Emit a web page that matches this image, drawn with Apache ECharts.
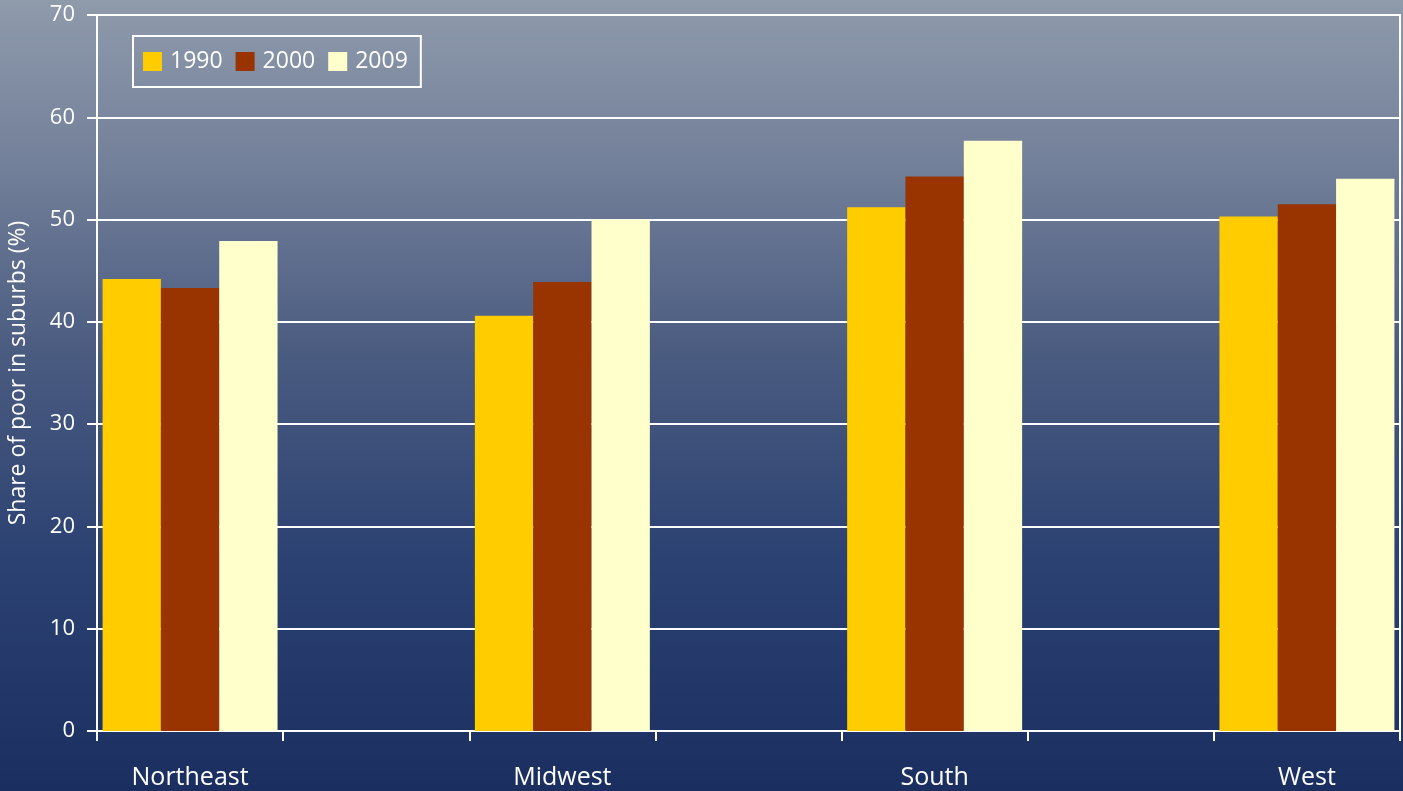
<!DOCTYPE html>
<html>
<head>
<meta charset="utf-8">
<script src="https://cdn.jsdelivr.net/npm/echarts@6/dist/echarts.min.js"></script>
<style>
html,body{margin:0;padding:0;width:1403px;height:791px;overflow:hidden;}
#c{width:1403px;height:791px;}
</style>
</head>
<body>
<div id="c"></div>
<script>
const regions = ['Northeast', 'Midwest', 'South', 'West'];
const seriesNames = ['1990', '2000', '2009'];
const values1990 = [44.2, 40.6, 51.2, 50.3];
const values2000 = [43.3, 43.9, 54.2, 51.5];
const values2009 = [47.9, 50.0, 57.7, 54.0];
const yTicks = [0, 10, 20, 30, 40, 50, 60, 70];
const colors = ['#FFCC00', '#993300', '#FFFFCC'];

// original layout leaves an empty slot between regions
function spread(arr, blank) {
  const out = [];
  arr.forEach((v, i) => { out.push(v); if (i < arr.length - 1) out.push(blank); });
  return out;
}
const cats = spread(regions, '');
const allValues = [values1990, values2000, values2009];

const chart = echarts.init(document.getElementById('c'));
const font = '"Open Sans", "Liberation Sans", sans-serif';
chart.setOption({
  animation: false,
  backgroundColor: {
    type: 'linear', x: 0, y: 0, x2: 0, y2: 1,
    colorStops: [
      {offset: 0, color: '#8f9aab'},
      {offset: 0.2, color: '#74819a'},
      {offset: 0.45, color: '#4a5b80'},
      {offset: 0.7, color: '#2c4272'},
      {offset: 1, color: '#1a2f60'}
    ]
  },
  textStyle: {fontFamily: font},
  grid: {left: 97, right: 3, top: 15, bottom: 60, containLabel: false, outerBoundsMode: 'none',
    show: true, borderColor: '#ffffff', borderWidth: 2, backgroundColor: 'transparent'},
  legend: {
    left: 133, top: 36,
    data: seriesNames,
    itemWidth: 19, itemHeight: 19, itemGap: 13,
    icon: 'rect',
    borderColor: '#ffffff', borderWidth: 2,
    padding: [14, 13, 14, 10],
    textStyle: {color: '#ffffff', fontSize: 23, fontFamily: font, padding: [0, 0, 0, 3]}
  },
  xAxis: {
    type: 'category',
    data: cats,
    axisLine: {lineStyle: {color: '#ffffff', width: 2}},
    axisTick: {show: true, length: 10, interval: 0, lineStyle: {color: '#ffffff', width: 2}},
    axisLabel: {color: '#ffffff', fontSize: 25, margin: 34, interval: 0, fontFamily: font},
    splitLine: {show: false}
  },
  yAxis: {
    type: 'value',
    min: yTicks[0], max: yTicks[yTicks.length - 1], interval: 10,
    name: 'Share of poor in suburbs (%)',
    nameLocation: 'middle',
    nameGap: 67,
    nameTextStyle: {color: '#ffffff', fontSize: 23, fontFamily: font},
    axisLine: {show: true, lineStyle: {color: '#ffffff', width: 2}},
    axisTick: {show: true, length: 10, lineStyle: {color: '#ffffff', width: 2}},
    axisLabel: {color: '#ffffff', fontSize: 22, margin: 22, fontFamily: font},
    splitLine: {show: true, lineStyle: {color: '#ffffff', width: 2}}
  },
  series: seriesNames.map((n, i) => ({
    name: n,
    type: 'bar',
    data: spread(allValues[i], '-'),
    itemStyle: {color: colors[i]},
    barGap: '0%',
    barCategoryGap: '6%'
  }))
});
</script>
</body>
</html>
